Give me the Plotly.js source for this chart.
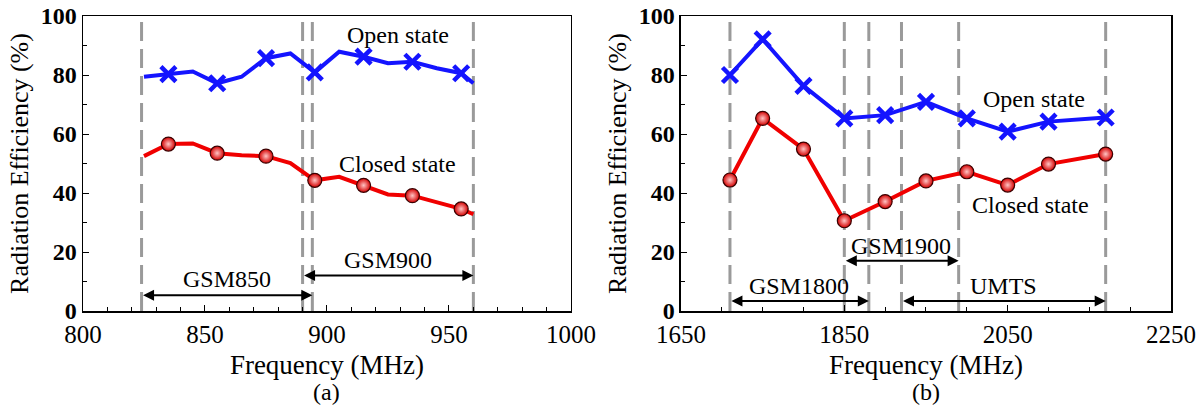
<!DOCTYPE html>
<html>
<head>
<meta charset="utf-8">
<script src="https://cdn.plot.ly/plotly-3.0.1.min.js"></script>
<style>html,body{margin:0;padding:0;background:#fff;}#chart{width:1203px;height:410px;}</style>
</head>
<body>
<div id="chart"></div>
<script>
// ---------- Data: panel (a) ----------
const freqA   = [825, 835, 845, 855, 865, 875, 885, 895, 905, 915, 925, 935, 945, 955, 960];
const openA   = [79.4, 80.3, 81.2, 77.2, 79.4, 85.7, 87.3, 80.9, 87.9, 86.2, 84.0, 84.5, 82.3, 80.6, 77.2];
const closedA = [52.5, 56.6, 56.8, 53.5, 52.8, 52.5, 50.1, 44.3, 45.5, 42.6, 39.5, 39.1, 37.0, 34.6, 32.8];
const bandNamesA = ["GSM850", "GSM900"];
const bandStartA = [824, 890];
const bandEndA   = [894, 960];

// ---------- Data: panel (b) ----------
const freqB   = [1710, 1750, 1800, 1850, 1900, 1950, 2000, 2050, 2100, 2170];
const openB   = [80.0, 92.1, 76.3, 65.3, 66.4, 70.9, 65.3, 60.8, 64.2, 65.6];
const closedB = [44.4, 65.3, 54.9, 30.6, 37.1, 44.1, 47.2, 42.7, 49.8, 53.2];
const bandNamesB = ["GSM1800", "GSM1900", "UMTS"];
const bandStartB = [1710, 1850, 1920];
const bandEndB   = [1880, 1990, 2170];

const seriesNames = ["Open state", "Closed state"];
const panelLabels = ["(a)", "(b)"];

// ---------- Styles ----------
const FONT = "Liberation Serif";
const BLUE = "#1414ff", RED = "#f00000";
const openMarker = {symbol: "x-thin", size: 15, color: BLUE, line: {color: BLUE, width: 4.5}};
const closedMarker = {symbol: "circle", size: 14, color: "#d40000",
  gradient: {type: "radial", color: "#ffc4c4"}, line: {color: "#3a0000", width: 1.2}};

function pick(arr, idx) { return idx.map(i => arr[i]); }
const markIdxA = freqA.map((_, i) => i).filter(i => i % 2 === 1);

const traces = [
  {x: freqA, y: openA, mode: "lines", line: {color: BLUE, width: 4}, xaxis: "x", yaxis: "y", name: seriesNames[0]},
  {x: pick(freqA, markIdxA), y: pick(openA, markIdxA), mode: "markers", marker: openMarker, xaxis: "x", yaxis: "y", name: seriesNames[0]},
  {x: freqA, y: closedA, mode: "lines", line: {color: RED, width: 4}, xaxis: "x", yaxis: "y", name: seriesNames[1]},
  {x: pick(freqA, markIdxA), y: pick(closedA, markIdxA), mode: "markers", marker: closedMarker, xaxis: "x", yaxis: "y", name: seriesNames[1]},
  {x: freqB, y: openB, mode: "lines+markers", line: {color: BLUE, width: 4}, marker: openMarker, xaxis: "x2", yaxis: "y2", name: seriesNames[0]},
  {x: freqB, y: closedB, mode: "lines+markers", line: {color: RED, width: 4}, marker: closedMarker, xaxis: "x2", yaxis: "y2", name: seriesNames[1]}
];

const bandShapes = [];
function addBandLines(starts, ends, xref) {
  const vals = Array.from(new Set(starts.concat(ends)));
  vals.forEach(v => bandShapes.push({type: "line", xref: xref, yref: xref === "x" ? "y domain" : "y2 domain",
    x0: v, x1: v, y0: 0, y1: 1, layer: "below", line: {color: "#9a9a9a", width: 3, dash: "19px,8px"}}));
}
addBandLines(bandStartA, bandEndA, "x");
addBandLines(bandStartB, bandEndB, "x2");

const anns = [];
function addBands(names, starts, ends, xref, yref, arrowY, labelY) {
  names.forEach((n, i) => {
    anns.push({xref: xref, yref: yref, axref: xref, ayref: yref,
      x: ends[i], y: arrowY[i], ax: starts[i], ay: arrowY[i], text: "",
      showarrow: true, arrowside: "end+start", arrowhead: 2, startarrowhead: 2,
      arrowsize: 1.1, startarrowsize: 1.1, arrowwidth: 2, arrowcolor: "#000",
      standoff: 0, startstandoff: 0});
    anns.push({xref: xref, yref: yref, x: (starts[i] + ends[i]) / 2, y: labelY[i],
      text: n, showarrow: false, font: {family: FONT, size: 24, color: "#000"}});
  });
}
addBands(bandNamesA, bandStartA, bandEndA, "x", "y", [5.3, 12], [10.8, 17.3]);
addBands(bandNamesB, bandStartB, bandEndB, "x2", "y2", [3.4, 17, 3.4], [8.6, 22, 8.6]);

const txt = (x, y, t, xref, yref) => ({x, y, text: t, xref, yref, showarrow: false,
  font: {family: FONT, size: 24, color: "#000"}});
anns.push(txt(929, 93.5, seriesNames[0], "x", "y"));
anns.push(txt(929, 50, seriesNames[1], "x", "y"));
anns.push(txt(2082, 71.8, seriesNames[0], "x2", "y2"));
anns.push(txt(2078, 35.9, seriesNames[1], "x2", "y2"));
anns.push({xref: "x domain", yref: "paper", x: 0.5, y: -0.275, yanchor: "middle", text: panelLabels[0],
  showarrow: false, font: {family: FONT, size: 24, color: "#000"}});
anns.push({xref: "x2 domain", yref: "paper", x: 0.5, y: -0.275, yanchor: "middle", text: panelLabels[1],
  showarrow: false, font: {family: FONT, size: 24, color: "#000"}});

function xAxis(domain, range, dtick, minorDtick, anchor) {
  return {domain, range, dtick, tick0: range[0], anchor, showgrid: false, zeroline: false,
    showline: true, linecolor: "#000", linewidth: 1.5, mirror: true,
    ticks: "inside", ticklen: 6, tickwidth: 1, tickcolor: "#000",
    minor: {ticks: "inside", dtick: minorDtick, tick0: range[0], ticklen: 4, tickwidth: 1, tickcolor: "#000", showgrid: false},
    tickfont: {family: FONT, size: 25, color: "#000"},
    title: {text: "Frequency (MHz)", font: {family: FONT, size: 27, color: "#000"}, standoff: 8}};
}
function yAxis(anchor) {
  return {domain: [0, 1], range: [0, 100], dtick: 20, anchor, showgrid: false, zeroline: false,
    showline: true, linecolor: "#000", linewidth: 1.5, mirror: true,
    ticks: "inside", ticklen: 6, tickwidth: 1, tickcolor: "#000",
    minor: {ticks: "inside", dtick: 10, ticklen: 4, tickwidth: 1, tickcolor: "#000", showgrid: false},
    tickfont: {family: FONT, size: 24, color: "#000", weight: "bold"},
    title: {text: "Radiation Efficiency (%)", font: {family: FONT, size: 26, color: "#000"}, standoff: 4}};
}

const layout = {
  width: 1203, height: 410, showlegend: false,
  margin: {l: 83, r: 32, t: 16, b: 99},
  paper_bgcolor: "#fff", plot_bgcolor: "#fff",
  font: {family: FONT, color: "#000"},
  xaxis: xAxis([0, 0.4485], [800, 1000], 50, 10, "y"),
  yaxis: yAxis("x"),
  xaxis2: xAxis([0.5496, 1], [1650, 2250], 200, 50, "y2"),
  yaxis2: yAxis("x2"),
  shapes: bandShapes, annotations: anns
};

Plotly.newPlot("chart", traces, layout, {staticPlot: true});
</script>
</body>
</html>
